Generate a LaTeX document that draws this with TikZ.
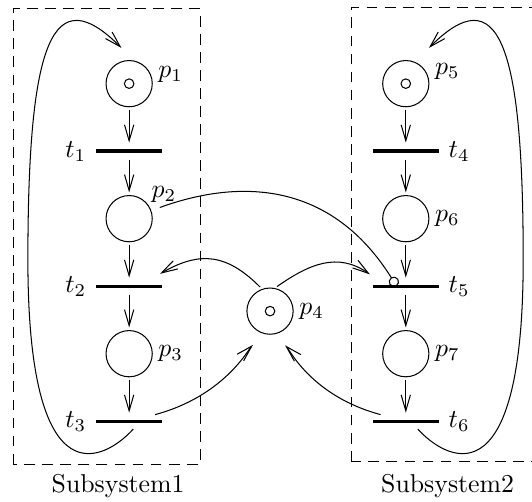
\documentclass[tikz,border=0pt]{standalone}
\usepackage{amsmath}
\usepackage{tikz}
\usetikzlibrary{arrows.meta,positioning}

\begin{document}
\begin{tikzpicture}[node distance=9.2mm,on grid,
   place/.style={circle,draw,minimum size=6.3mm,inner sep=0pt},
   marked/.style={path picture={\draw (path picture bounding box.center) circle (0.065);}},
   trans/.style={fill,minimum width=9mm,minimum height=1.3pt,inner sep=0pt,outer sep=1.65pt},
   arc/.style={-{Straight Barb[length=6.2pt,width=3.6pt]},shorten >=1pt,shorten <=1pt},
   inhib/.style={-{Circle[open,length=4pt]},shorten <=3.5pt},
   subsys/.style={draw,dash pattern=on 4.2pt off 2.8pt},
   every label/.style={inner sep=2pt}]
  \useasboundingbox (0,0) rectangle (7.25,6.84);
  % subsystem 1
  \node[place,marked,label={[yshift=1.2mm]right:$p_1$}] (p1) at (1.76,5.70) {};
  \node[trans,below=of p1,label=left:$t_1$] (t1) {};
  \node[place,below=of t1,label={[yshift=-0.8mm]above right:$p_2$}] (p2) {};
  \node[trans,below=of p2,label=left:$t_2$] (t2) {};
  \node[place,below=of t2,label=right:$p_3$] (p3) {};
  \node[trans,below=of p3,label=left:$t_3$] (t3) {};
  % subsystem 2
  \node[place,marked,right=3.77cm of p1,label={[yshift=1.6mm]right:$p_5$}] (p5) {};
  \node[trans,below=of p5,label=right:$t_4$] (t4) {};
  \node[place,below=of t4,label=right:$p_6$] (p6) {};
  \node[trans,below=of p6,label=right:$t_5$] (t5) {};
  \node[place,below=of t5,label=right:$p_7$] (p7) {};
  \node[trans,below=of p7,label=right:$t_6$] (t6) {};
  % shared place
  \node[place,marked,label=right:$p_4$] (p4) at (3.68,2.60) {};

  \draw[subsys] (0.18,0.51) rectangle (2.73,6.72);
  \draw[subsys] (4.79,0.55) rectangle (7.40,6.74);
  \node (sub1) at (1.61,0.22) {Subsystem1};
  \node (sub2) at (6.10,0.22) {Subsystem2};

  \draw[arc] (p1) -- (t1);
  \draw[arc] (t1) -- (p2);
  \draw[arc] (p2) -- (t2);
  \draw[arc] (t2) -- (p3);
  \draw[arc] (p3) -- (t3);
  \draw[arc] (p5) -- (t4);
  \draw[arc] (t4) -- (p6);
  \draw[arc] (p6) -- (t5);
  \draw[arc] (t5) -- (p7);
  \draw[arc] (p7) -- (t6);

  % loops back to the first place
  \draw[arc] ([xshift=0.8mm]t3.south) .. controls +(-0.37,-0.41) and +(0,-3.4) .. (0.38,3.30)
     .. controls +(0,3.0) and +(-0.96,0.96) .. ([xshift=-0.8mm,yshift=1.4mm]p1.north);
  \draw[arc] ([xshift=1.4mm]t6.south) .. controls +(0.37,-0.41) and +(0,-3.4) .. (7.13,3.30)
     .. controls +(0,3.0) and +(0.96,0.96) .. ([xshift=2.9mm,yshift=1.4mm]p5.north);

  % shared resource
  \draw[arc] (p4.110) to[out=135,in=30,looseness=1.2] ([xshift=3.9mm,yshift=0.7mm]t2.north);
  \draw[arc] (p4.78) to[out=35,in=145,looseness=1.1] ([xshift=-4.6mm,yshift=0.6mm]t5.north);
  \draw[arc,shorten >=6pt] ([xshift=3.2mm]t3.north) .. controls +(15:1) and +(-135:0.3) .. (p4.255);
  \draw[arc,shorten >=6pt] ([xshift=-3.1mm]t6.north) .. controls +(165:1) and +(-45:0.3) .. (p4.280);

  % inhibitor arc
  \draw[inhib] (p2.20) .. controls +(20:1.3) and +(122:1.67) .. ([xshift=-1.25mm]t5.center);
\end{tikzpicture}
\end{document}
